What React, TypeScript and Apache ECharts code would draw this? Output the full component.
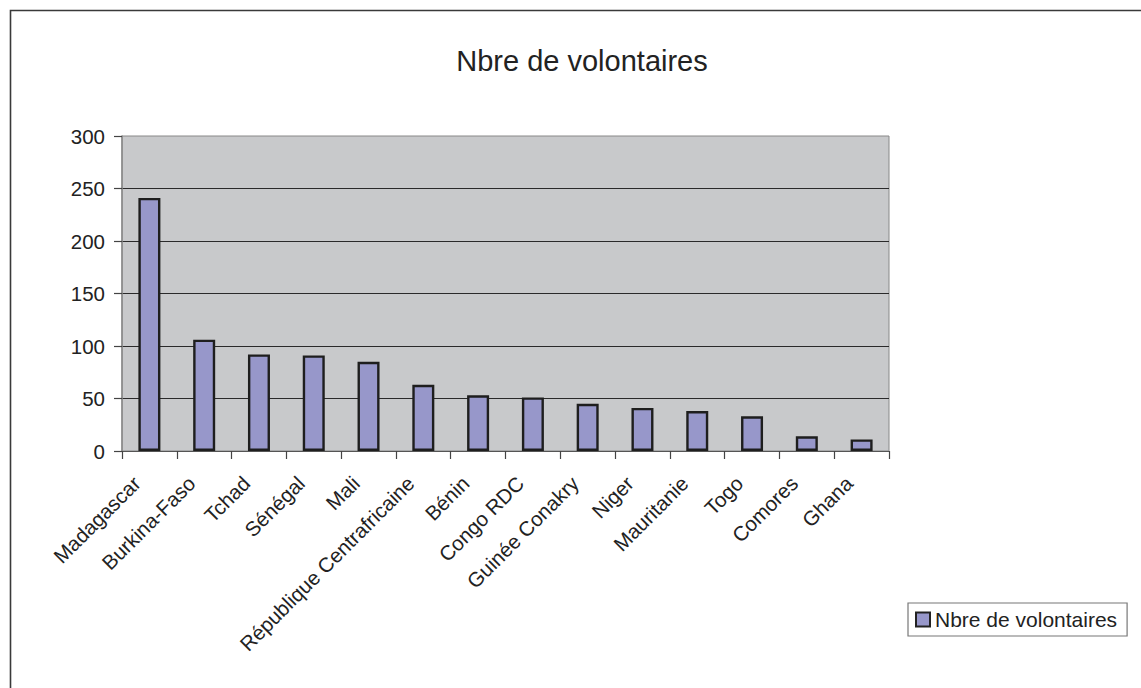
import React, { useEffect, useRef } from "react";
import * as echarts from "echarts";

const categories = [
  "Madagascar",
  "Burkina-Faso",
  "Tchad",
  "Sénégal",
  "Mali",
  "République Centrafricaine",
  "Bénin",
  "Congo RDC",
  "Guinée Conakry",
  "Niger",
  "Mauritanie",
  "Togo",
  "Comores",
  "Ghana",
];
const volontaires = [241, 106, 92, 91, 85, 63, 53, 51, 45, 41, 38, 33, 14, 11];
const seriesName = "Nbre de volontaires";
const titleText = "Nbre de volontaires";

const FONT = "'Liberation Sans', Arial, Helvetica, sans-serif";

export default function App() {
  const ref = useRef<HTMLDivElement>(null);
  useEffect(() => {
    if (!ref.current) return;
    const chart = echarts.init(ref.current, undefined, { renderer: "svg" });
    chart.setOption({
      animation: false,
      backgroundColor: "#ffffff",
      textStyle: { fontFamily: FONT, color: "#222" },
      title: {
        text: titleText,
        left: 577,
        top: 41,
        textAlign: "center",
        textStyle: { fontFamily: FONT, fontSize: 29, fontWeight: "normal", color: "#222" },
      },
      graphic: [
        {
          type: "rect",
          shape: { x: 10.5, y: 10.5, width: 1300, height: 900 },
          style: { fill: "none", stroke: "#3a3a3a", lineWidth: 1.6 },
          silent: true,
          z: 100,
        },
      ],
      legend: {
        left: 908,
        top: 603,
        orient: "vertical",
        data: [seriesName],
        icon: "rect",
        itemWidth: 14,
        itemHeight: 14,
        padding: [6, 10, 6, 7],
        borderColor: "#777",
        borderWidth: 1.2,
        backgroundColor: "#fff",
        textStyle: { fontFamily: FONT, fontSize: 21, color: "#222" },
        itemStyle: { borderColor: "#222", borderWidth: 2 },
      },
      grid: {
        left: 122,
        top: 136,
        width: 767,
        height: 315,
        show: true,
        backgroundColor: "#c8c9cb",
        borderColor: "#888",
        borderWidth: 1,
        containLabel: false,
      },
      xAxis: {
        type: "category",
        data: categories,
        boundaryGap: true,
        axisLine: { show: true, lineStyle: { color: "#555", width: 1.2 } },
        axisTick: { show: true, inside: false, length: 8, lineStyle: { color: "#444", width: 1.2 } },
        axisLabel: {
          rotate: 45,
          interval: 0,
          margin: 16,
          padding: [0, 18, 0, 0],
          fontFamily: FONT,
          fontSize: 20.5,
          color: "#222",
        },
        splitLine: { show: false },
      },
      yAxis: {
        type: "value",
        min: 0,
        max: 300,
        interval: 50,
        axisLine: { show: true, lineStyle: { color: "#888", width: 1.5 } },
        axisTick: { show: true, inside: false, length: 8, lineStyle: { color: "#444", width: 1.2 } },
        axisLabel: { margin: 17, fontFamily: FONT, fontSize: 20.5, color: "#222" },
        splitLine: {
          show: true,
          showMinLine: false,
          showMaxLine: false,
          lineStyle: { color: "#2a2a2a", width: 1 },
        },
      },
      series: [
        {
          name: seriesName,
          type: "bar",
          data: volontaires,
          barWidth: 22,
          itemStyle: { color: "#9797ca", borderColor: "#1e1e1e", borderWidth: 2.4 },
        },
      ],
    });
    return () => chart.dispose();
  }, []);
  return (
    <div
      ref={ref}
      style={{ position: "fixed", left: 0, top: 0, width: 1141, height: 688, background: "#fff" }}
    />
  );
}
